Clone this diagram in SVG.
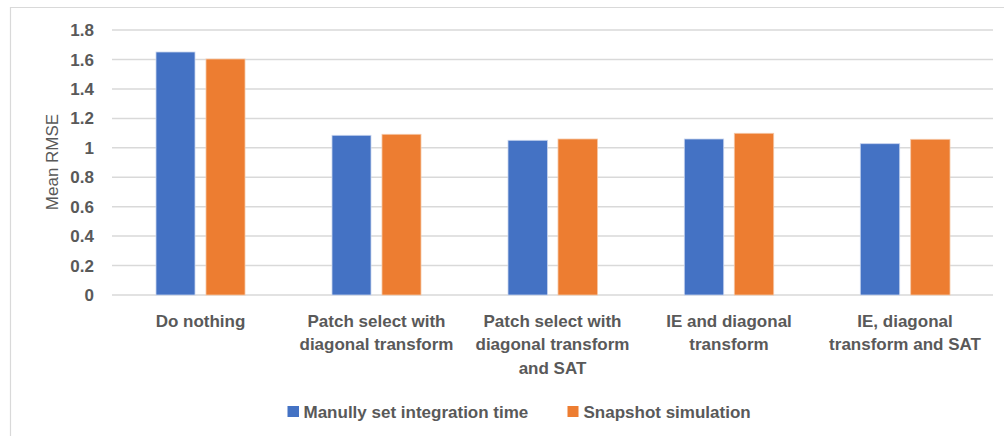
<svg xmlns="http://www.w3.org/2000/svg" width="1004" height="436" viewBox="0 0 1004 436">
<style>
.grid{stroke:#d9d9d9;stroke-width:1.5}
.tick{font-family:"Liberation Sans",Arial,sans-serif;font-weight:bold;font-size:17px;fill:#595959;text-anchor:end}
.cat{font-family:"Liberation Sans",Arial,sans-serif;font-weight:bold;font-size:17px;fill:#595959;text-anchor:middle}
.leg{font-family:"Liberation Sans",Arial,sans-serif;font-weight:bold;font-size:17px;fill:#595959}
.ttl{font-family:"Liberation Sans",Arial,sans-serif;font-size:17px;fill:#595959;text-anchor:middle}
.b{fill:#4472C4;stroke:#c8d4ee;stroke-width:0.8}
.o{fill:#ED7D31;stroke:#f6c7a6;stroke-width:0.8}
</style>
<rect width="1004" height="436" fill="#ffffff"/>
<path d="M10.5,436 V7.5 H1004" fill="none" stroke="#d9d9d9" stroke-width="1.2"/>
<g id="gridlines">
<line class="grid" x1="112" y1="30" x2="993" y2="30"/>
<line class="grid" x1="112" y1="59.5" x2="993" y2="59.5"/>
<line class="grid" x1="112" y1="89" x2="993" y2="89"/>
<line class="grid" x1="112" y1="118.4" x2="993" y2="118.4"/>
<line class="grid" x1="112" y1="147.8" x2="993" y2="147.8"/>
<line class="grid" x1="112" y1="177.2" x2="993" y2="177.2"/>
<line class="grid" x1="112" y1="206.7" x2="993" y2="206.7"/>
<line class="grid" x1="112" y1="236.1" x2="993" y2="236.1"/>
<line class="grid" x1="112" y1="265.6" x2="993" y2="265.6"/>
<line class="grid" x1="112" y1="295" x2="993" y2="295"/>
</g>
<g id="y-axis">
<text class="tick" x="94" y="36">1.8</text>
<text class="tick" x="94" y="65.5">1.6</text>
<text class="tick" x="94" y="95">1.4</text>
<text class="tick" x="94" y="124.4">1.2</text>
<text class="tick" x="94" y="153.8">1</text>
<text class="tick" x="94" y="183.2">0.8</text>
<text class="tick" x="94" y="212.7">0.6</text>
<text class="tick" x="94" y="242.1">0.4</text>
<text class="tick" x="94" y="271.6">0.2</text>
<text class="tick" x="94" y="301">0</text>
<text class="ttl" transform="translate(58,162) rotate(-90)">Mean RMSE</text>
</g>
<g id="bars">
<rect class="b" x="156" y="52" width="39" height="243"/>
<rect class="o" x="206" y="59" width="39" height="236"/>
<rect class="b" x="332" y="135.3" width="39" height="159.7"/>
<rect class="o" x="382" y="134.3" width="39" height="160.7"/>
<rect class="b" x="508" y="140.3" width="39.5" height="154.7"/>
<rect class="o" x="558" y="139" width="39.5" height="156"/>
<rect class="b" x="684.3" y="139" width="39.4" height="156"/>
<rect class="o" x="734.3" y="133.3" width="39.4" height="161.7"/>
<rect class="b" x="860.3" y="143.7" width="39.4" height="151.3"/>
<rect class="o" x="910.7" y="139.3" width="39.3" height="155.7"/>
</g>
<g id="categories">
<text class="cat" x="200.5" y="327">Do nothing</text>
<text class="cat" x="376.5" y="327">Patch select with</text>
<text class="cat" x="376.5" y="350.3">diagonal transform</text>
<text class="cat" x="552.5" y="327">Patch select with</text>
<text class="cat" x="552.5" y="350.3">diagonal transform</text>
<text class="cat" x="552.5" y="373.6">and SAT</text>
<text class="cat" x="729" y="327">IE and diagonal</text>
<text class="cat" x="729" y="350.3">transform</text>
<text class="cat" x="905" y="327">IE, diagonal</text>
<text class="cat" x="905" y="350.3">transform and SAT</text>
</g>
<g id="legend">
<rect x="287.5" y="406" width="11.5" height="11" fill="#4472C4"/>
<text class="leg" x="303.5" y="418">Manully set integration time</text>
<rect x="567.5" y="406" width="11" height="11" fill="#ED7D31"/>
<text class="leg" x="583.5" y="418">Snapshot simulation</text>
</g>
</svg>
